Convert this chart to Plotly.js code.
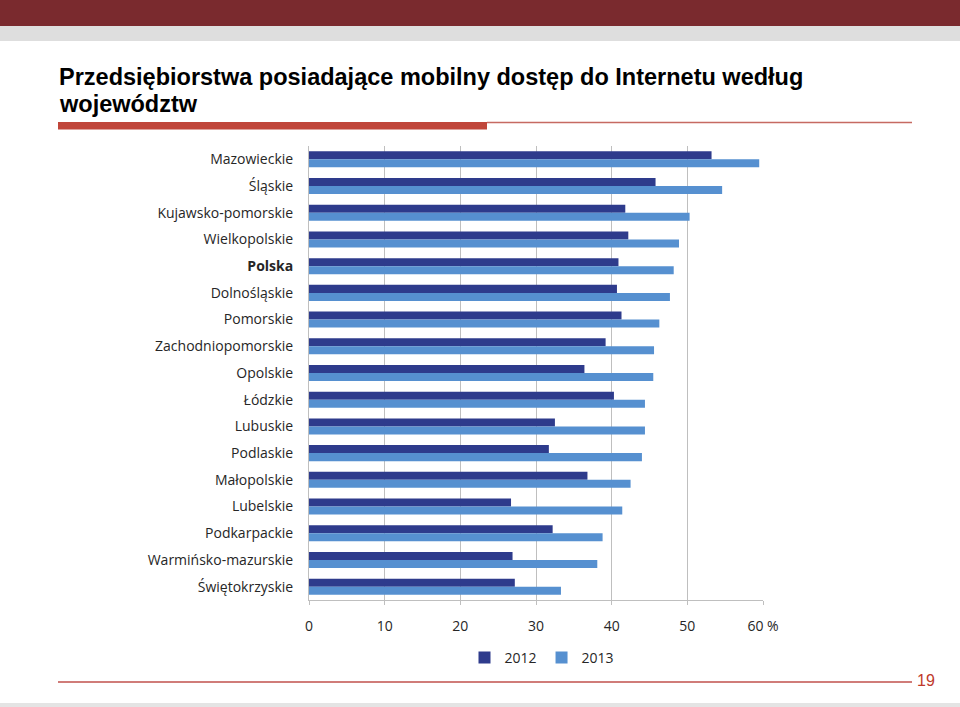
<!DOCTYPE html>
<html><head><meta charset="utf-8">
<script src="https://cdn.plot.ly/plotly-3.0.1.min.js"></script>
<style>html,body{margin:0;padding:0;background:#fff}#chart{width:960px;height:707px}</style>
</head><body><div id="chart"></div>
<script>
const regions = ["Mazowieckie","Śląskie","Kujawsko-pomorskie","Wielkopolskie","Polska","Dolnośląskie","Pomorskie","Zachodniopomorskie","Opolskie","Łódzkie","Lubuskie","Podlaskie","Małopolskie","Lubelskie","Podkarpackie","Warmińsko-mazurskie","Świętokrzyskie"];
const regionLabels = regions.map(r => r === "Polska" ? "<b>Polska</b>" : r);
const values2012 = [53.2,45.8,41.8,42.2,40.9,40.7,41.3,39.2,36.4,40.3,32.5,31.7,36.8,26.7,32.2,26.9,27.2];
const values2013 = [59.5,54.6,50.3,48.9,48.2,47.7,46.3,45.6,45.5,44.4,44.4,44.0,42.5,41.4,38.8,38.1,33.3];
const seriesNames = ["2012","2013"];
const xTickVals = [0,10,20,30,40,50,60];
const xTickText = ["0","10","20","30","40","50","60 %"];
const titleLine1 = "Przedsiębiorstwa posiadające mobilny dostęp do Internetu według";
const titleLine2 = "województw";
const pageNumber = "19";

const W=960,H=707,L=309,R=763,T=146,B=600;
const px = v => (v-L)/(R-L);
const py = v => (B-v)/(B-T);
const labelFont = {family:"'Open Sans', 'Liberation Sans', sans-serif", size:14, color:"#262626"};

const traces = [
 {type:'bar',orientation:'h',name:seriesNames[0],y:regions,x:values2012,marker:{color:'#2E3B8C',line:{width:0}}},
 {type:'bar',orientation:'h',name:seriesNames[1],y:regions,x:values2013,marker:{color:'#5690D0',line:{width:0}}}
];

const shapes = [
 {type:'rect',xref:'paper',yref:'paper',x0:px(0),x1:px(960),y0:py(0),y1:py(26),fillcolor:'#7A2A2E',line:{width:0}},
 {type:'rect',xref:'paper',yref:'paper',x0:px(0),x1:px(960),y0:py(26),y1:py(41),fillcolor:'#DEDEDE',line:{width:0}},
 {type:'rect',xref:'paper',yref:'paper',x0:px(58),x1:px(487),y0:py(122),y1:py(129.5),fillcolor:'#C0463A',line:{width:0}},
 {type:'line',xref:'paper',yref:'paper',x0:px(487),x1:px(912),y0:py(122.5),y1:py(122.5),line:{color:'#C66A62',width:1.5}},
 {type:'line',xref:'paper',yref:'paper',x0:px(58),x1:px(912),y0:py(682),y1:py(682),line:{color:'#C0504D',width:1.5}},
 {type:'rect',xref:'paper',yref:'paper',x0:px(0),x1:px(960),y0:py(703),y1:py(707),fillcolor:'#E4E4E4',line:{width:0}}
];

const titleFont = {family:"'Liberation Sans', Arial, sans-serif", size:23.5, color:'#000'};
const annotations = [
 {xref:'paper',yref:'paper',x:px(57),y:py(77),xanchor:'left',yanchor:'middle',showarrow:false,text:'<b>'+titleLine1+'</b>',font:titleFont},
 {xref:'paper',yref:'paper',x:px(57),y:py(104),xanchor:'left',yanchor:'middle',showarrow:false,text:'<b>'+titleLine2+'</b>',font:titleFont},
 {xref:'paper',yref:'paper',x:px(915),y:py(680),xanchor:'left',yanchor:'middle',showarrow:false,text:pageNumber,font:{family:"'Liberation Sans', sans-serif",size:16,color:'#C0392B'}}
];

const layout = {
 width:W,height:H,margin:{l:L,r:W-R,t:T,b:H-B,pad:0},
 paper_bgcolor:'#fff',plot_bgcolor:'#fff',
 barmode:'group',bargap:0.4,bargroupgap:0,
 showlegend:true,
 legend:{orientation:'h',x:px(542),xanchor:'center',y:py(658),yanchor:'middle',traceorder:'normal',font:labelFont,itemwidth:30},
 xaxis:{range:[0,60],tickvals:xTickVals,ticktext:xTickText,showgrid:true,gridcolor:'#BFBFBF',gridwidth:1,zeroline:false,
   showline:true,linecolor:'#BFBFBF',linewidth:1,ticks:'outside',ticklen:4,tickcolor:'#BFBFBF',tickfont:labelFont,ticklabelstandoff:9,fixedrange:true},
 yaxis:{type:'category',autorange:'reversed',tickvals:regions,ticktext:regionLabels,showgrid:false,zeroline:false,showline:true,linecolor:'#BFBFBF',linewidth:1,
   ticks:'',tickfont:labelFont,ticklabelstandoff:12,fixedrange:true},
 shapes:shapes,annotations:annotations
};
Plotly.newPlot('chart',traces,layout,{displayModeBar:false,staticPlot:true});
</script></body></html>
